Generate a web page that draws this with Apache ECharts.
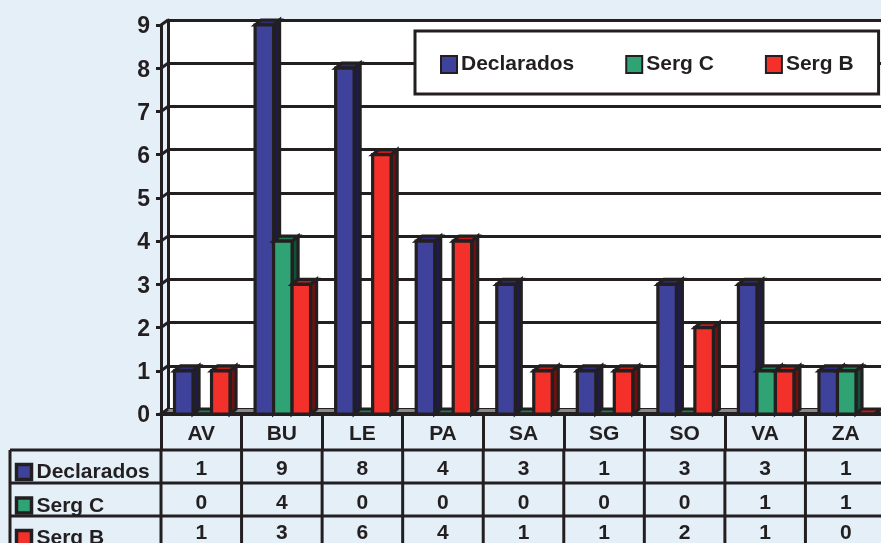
<!DOCTYPE html>
<html><head><meta charset="utf-8">
<style>html,body{margin:0;padding:0;background:#e4eff8;overflow:hidden}#c{width:881px;height:543px}</style>
<script src="https://cdn.jsdelivr.net/npm/echarts@6/dist/echarts.min.js"></script>
</head><body><div id="c"></div>
<script>
const categories = ['AV','BU','LE','PA','SA','SG','SO','VA','ZA'];
const declarados = [1,9,8,4,3,1,3,3,1];
const sergC = [0,4,0,0,0,0,0,1,1];
const sergB = [1,3,6,4,1,1,2,1,0];
const yTicks = [0,1,2,3,4,5,6,7,8,9];
const rowNames = ['Declarados','Serg C','Serg B'];

const INK = '#231f20', FONT = '"Liberation Sans",Arial,sans-serif';
const COLORS = ['#3f429a','#2fa374','#f3302a'];
const TOPS = ['#2b2d78','#1f7a55','#c01c18'];
const SIDES = ['#1c1c4e','#12503a','#6e1210'];
const DX = 6, DY = 5, BAR = 18.5;
const ROWS = [450,483,516,543];
const chart = echarts.init(document.getElementById('c'));

function barRender(s){
  return function(params, api){
    const c = api.coord([api.value(0), api.value(1)]);
    const base = api.coord([api.value(0), 0]);
    const x = c[0] + (s-1)*BAR - BAR/2 + 1, y = c[1], b = base[1];
    const line = {stroke: INK, lineWidth: 3.2, lineJoin: 'miter'};
    const poly = (pts, fill) => ({type:'polygon', shape:{points:pts}, style:Object.assign({fill}, line)});
    return {type:'group', children:[
      poly([[x+BAR,y],[x+BAR+DX,y-DY],[x+BAR+DX,b-DY],[x+BAR,b]], SIDES[s]),
      poly([[x,y],[x+DX,y-DY],[x+BAR+DX,y-DY],[x+BAR,y]], TOPS[s]),
      poly([[x,y],[x+BAR,y],[x+BAR,b],[x,b]], COLORS[s])
    ]};
  };
}
function barSeries(name, vals, s){
  return {type:'custom', name, xAxisIndex:0, yAxisIndex:0, z:5+s,
    renderItem:barRender(s), clip:false,
    itemStyle:{color:COLORS[s], borderColor:INK, borderWidth:3.5},
    data:vals.map((v,i)=>[i,v])};
}
function wallRender(params, api){
  const v = api.value(0);
  const p = api.coord([0, v]);
  const x = p[0] - api.size([1,0])[0]/2;
  const kids = [{type:'line', shape:{x1:x,y1:p[1],x2:x+7,y2:p[1]-DY}, style:{stroke:INK,lineWidth:3}}];
  if (v === 0) kids.unshift({type:'polygon', shape:{points:[[x,p[1]],[x+7,p[1]-DY],[x+760,p[1]-DY],[x+760,p[1]]]}, style:{fill:'#8a8a8a'}});
  return {type:'group', children:kids};
}
const tableRows = [declarados, sergC, sergB];
const cells = [];
tableRows.forEach((r,ri)=>r.forEach((v,ci)=>cells.push([ci,ri,v])));
function cellRender(params, api){
  const ci = api.value(0), ri = api.value(1);
  const p = api.coord([ci,0]);
  const w = api.size([1,0])[0];
  const kids = [
    {type:'line', shape:{x1:p[0]-w/2,y1:ROWS[ri],x2:p[0]-w/2,y2:ROWS[ri+1]}, style:{stroke:INK,lineWidth:3}},
    {type:'text', x:p[0], y:(ROWS[ri]+ROWS[ri+1])/2 + [3,3.5,3.5][ri],
      style:{text:String(api.value(2)), fill:INK, font:'bold 21px '+FONT, textAlign:'center', textVerticalAlign:'middle'}}
  ];
  return {type:'group', children:kids};
}
const graphic = [];
ROWS.slice(0,3).forEach(y=>graphic.push({type:'line', z:3, shape:{x1:10,y1:y,x2:881,y2:y}, style:{stroke:INK,lineWidth:3}}));
graphic.push({type:'line', z:3, shape:{x1:10,y1:450,x2:10,y2:543}, style:{stroke:INK,lineWidth:3}});
rowNames.forEach((n,i)=>{
  const cy = [472.5,506,538.5][i];
  graphic.push({type:'rect', z:3, shape:{x:16.5,y:cy-8,width:15,height:15}, style:{fill:COLORS[i],stroke:INK,lineWidth:3.5}});
  graphic.push({type:'text', z:3, x:36.5, y:cy, style:{text:n, fill:INK, font:'bold 21px '+FONT, textVerticalAlign:'middle'}});
});

chart.setOption({
  animation:false,
  backgroundColor:'#e4eff8',
  textStyle:{fontFamily:FONT},
  legend:{
    left:415, top:31, orient:'horizontal', z:20,
    data:['Declarados','Serg C','Serg B'],
    backgroundColor:'#fff', borderColor:INK, borderWidth:3,
    padding:[23,25,19,25], itemGap:51, itemWidth:16, itemHeight:17,
    icon:'rect', selectedMode:false,
    textStyle:{color:INK, fontSize:21, fontWeight:'bold', fontFamily:FONT, padding:[0,0,0,-1]}
  },
  grid:[
    {left:161, top:25, width:725, height:389, containLabel:false, outerBoundsMode:'none'},
    {left:168, top:20, width:725, height:389, show:true, backgroundColor:'#fff', borderWidth:0, z:0, outerBoundsMode:'none'}
  ],
  xAxis:[
    {type:'category', gridIndex:0, data:categories,
      axisLine:{show:true,lineStyle:{color:INK,width:4}},
      axisTick:{show:true,alignWithLabel:false,length:35,lineStyle:{color:INK,width:3}},
      axisLabel:{color:INK,fontSize:21,fontWeight:'bold',fontFamily:FONT,margin:10},
      z:4},
    {type:'category', gridIndex:1, data:categories, show:false}
  ],
  yAxis:[
    {type:'value', gridIndex:0, min:0, max:9, interval:1,
      axisLine:{show:true,lineStyle:{color:INK,width:3}},
      axisTick:{show:true,length:5,lineStyle:{color:INK,width:3}},
      axisLabel:{color:INK,fontSize:23,fontWeight:'bold',fontFamily:FONT,margin:11,verticalAlign:'top',lineHeight:4,
        formatter:v=>String(v)},
      splitLine:{show:false}},
    {type:'value', gridIndex:1, min:0, max:9, interval:1,
      axisLine:{show:true,lineStyle:{color:INK,width:3}},
      axisTick:{show:false}, axisLabel:{show:false},
      splitLine:{show:true,lineStyle:{color:INK,width:3.2}}, z:1}
  ],
  series:[
    {type:'custom', name:'wall', xAxisIndex:0, yAxisIndex:0, z:2, clip:false, silent:true,
      renderItem:wallRender, data:yTicks.map(v=>[v])},
    barSeries('Declarados', declarados, 0),
    barSeries('Serg C', sergC, 1),
    barSeries('Serg B', sergB, 2),
    {type:'custom', name:'table', xAxisIndex:0, yAxisIndex:0, z:4, clip:false, silent:true,
      renderItem:cellRender, data:cells}
  ],
  graphic
});
</script></body></html>
